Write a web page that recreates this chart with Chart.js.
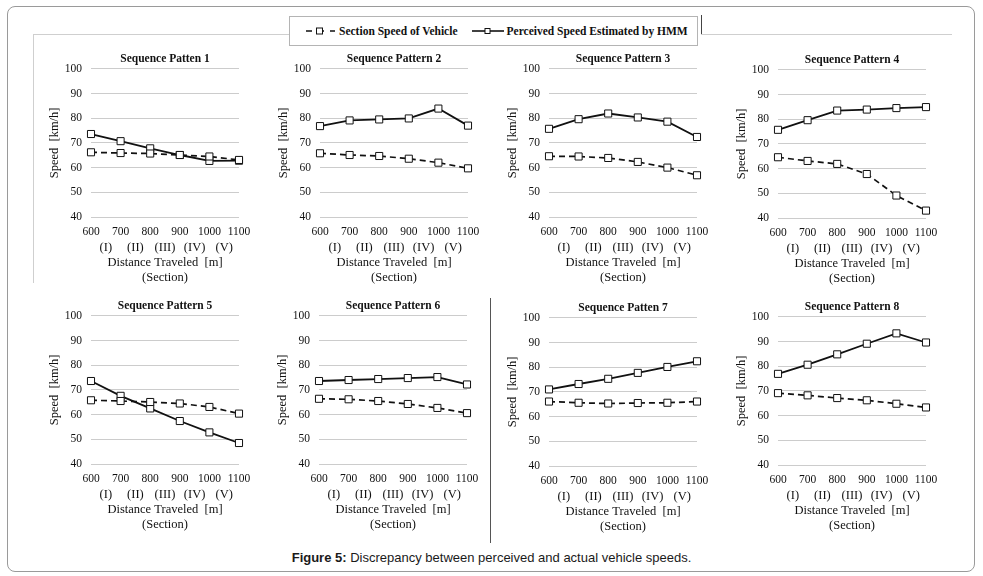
<!DOCTYPE html>
<html>
<head>
<meta charset="utf-8">
<script src="https://cdn.jsdelivr.net/npm/chart.js@4.4.1/dist/chart.umd.min.js"></script>
<style>
  html, body { margin: 0; padding: 0; background: #fff; }
  body { width: 983px; height: 576px; position: relative; overflow: hidden; }
  .frame { position: absolute; left: 7px; top: 6px; width: 966px; height: 564px;
           border: 1px solid #9a9a9a; border-radius: 8px; }
  .line { position: absolute; background: #cfcfcf; }
  .panel { position: absolute; }
  .legend { position: absolute; left: 289px; top: 16px; width: 407px; height: 28px;
            border: 1px solid #b4b4b4; background: #fff;
            font: bold 11.5px "Liberation Serif", "Times New Roman", serif; color: #111;
            display: flex; align-items: center; }
  .legend svg { margin-right: 3px; }
  .legend .item { display: flex; align-items: center; }
  .caption { position: absolute; left: 0; width: 983px; top: 550px; text-align: center;
             font: 13px "Liberation Sans", Arial, sans-serif; color: #1a1a1a; }
</style>
</head>
<body>
<div class="frame"></div>
<div class="line" style="left:33px; top:34px; width:256px; height:1px;"></div>
<div class="line" style="left:33px; top:34px; width:1px; height:249px;"></div>
<div class="line" style="left:701px; top:34px; width:251px; height:1px;"></div>
<div class="line" style="left:701px; top:15px; width:1px; height:19px; background:#444;"></div>
<div class="line" style="left:490px; top:298px; width:1px; height:245px; background:#555;"></div>

<div class="legend">
  <span class="item" style="margin-left:15px;">
    <svg width="31" height="10"><line x1="1" y1="5" x2="30" y2="5" stroke="#111" stroke-width="1.6" stroke-dasharray="6 6"/><rect x="11.5" y="2" width="6" height="6" fill="#fff" stroke="#111" stroke-width="1"/></svg>
    Section Speed of Vehicle
  </span>
  <span class="item" style="margin-left:14px;">
    <svg width="32" height="10"><line x1="0" y1="5" x2="32" y2="5" stroke="#111" stroke-width="1.6"/><rect x="13" y="2.5" width="5" height="5" fill="#fff" stroke="#111" stroke-width="1"/></svg>
    Perceived Speed Estimated by HMM
  </span>
</div>

<div class="caption"><b>Figure 5:</b> Discrepancy between perceived and actual vehicle speeds.</div>

<script>
const distances = ['600', '700', '800', '900', '1000', '1100'];
const sections = ['(I)', '(II)', '(III)', '(IV)', '(V)'];
const yTicks = [40, 50, 60, 70, 80, 90, 100];

const titles = [
  'Sequence Patten 1', 'Sequence Pattern 2', 'Sequence Pattern 3', 'Sequence Pattern 4',
  'Sequence Pattern 5', 'Sequence Pattern 6', 'Sequence Patten 7', 'Sequence Pattern 8'
];

// section speed of vehicle (dashed)
const sect1 = [66.2, 65.9, 65.7, 65.1, 64.5, 63.1];
const sect2 = [65.8, 65.1, 64.7, 63.6, 62.0, 59.7];
const sect3 = [64.6, 64.5, 63.9, 62.3, 60.0, 56.9];
const sect4 = [64.6, 63.1, 61.9, 57.8, 49.1, 43.0];
const sect5 = [65.8, 65.5, 65.1, 64.5, 63.1, 60.4];
const sect6 = [66.4, 66.2, 65.5, 64.3, 62.7, 60.6];
const sect7 = [66.1, 65.6, 65.3, 65.5, 65.6, 66.1];
const sect8 = [69.1, 68.2, 67.1, 66.2, 64.8, 63.3];

// perceived speed estimated by HMM (solid)
const hmm1 = [73.6, 70.7, 67.8, 65.1, 62.7, 62.8];
const hmm2 = [76.8, 79.1, 79.5, 79.9, 83.9, 77.0];
const hmm3 = [75.7, 79.6, 81.9, 80.3, 78.6, 72.4];
const hmm4 = [75.7, 79.6, 83.5, 83.9, 84.5, 84.9];
const hmm5 = [73.6, 67.6, 62.5, 57.4, 52.8, 48.5];
const hmm6 = [73.6, 74.0, 74.4, 74.8, 75.2, 72.2];
const hmm7 = [71.0, 73.2, 75.3, 77.7, 80.1, 82.4];
const hmm8 = [76.9, 80.6, 84.8, 89.1, 93.3, 89.6];

const sectSeries = [sect1, sect2, sect3, sect4, sect5, sect6, sect7, sect8];
const hmmSeries = [hmm1, hmm2, hmm3, hmm4, hmm5, hmm6, hmm7, hmm8];

// canvas positions [left, top]
const spots = [
  [40, 48], [269, 48], [498, 48], [727, 49],
  [40, 295], [268, 295], [498, 297], [727, 296]
];

const serif = '"Liberation Serif", "Times New Roman", serif';
const Y_AXIS_W = 51;

function makePanel(i) {
  const [left, top] = spots[i];
  const canvas = document.createElement('canvas');
  const wrap = document.createElement('div');
  wrap.className = 'panel';
  wrap.style.left = left + 'px';
  wrap.style.top = top + 'px';
  wrap.style.width = '220px';
  wrap.style.height = '237px';
  wrap.appendChild(canvas);
  document.body.appendChild(wrap);

  const pointStyle = {
    pointStyle: 'rect',
    pointRadius: 5,
    pointHoverRadius: 5,
    pointBackgroundColor: '#fff',
    pointBorderColor: '#111',
    pointBorderWidth: 1
  };

  new Chart(canvas, {
    type: 'line',
    data: {
      labels: distances,
      datasets: [
        {
          label: 'Section Speed of Vehicle',
          data: sectSeries[i],
          borderColor: '#111',
          borderWidth: 1.7,
          borderDash: [6, 4],
          tension: 0,
          ...pointStyle
        },
        {
          label: 'Perceived Speed Estimated by HMM',
          data: hmmSeries[i],
          borderColor: '#111',
          borderWidth: 1.8,
          tension: 0,
          ...pointStyle
        }
      ]
    },
    options: {
      responsive: true,
      maintainAspectRatio: false,
      animation: false,
      layout: { padding: { left: 0, right: 21, top: 0, bottom: 0 } },
      plugins: {
        legend: { display: false },
        tooltip: { enabled: false },
        title: {
          display: true,
          text: titles[i],
          fullSize: false,
          color: '#111',
          font: { family: serif, size: 11.5, weight: 'bold' },
          padding: { top: 4, bottom: 3 }
        }
      },
      scales: {
        x: {
          type: 'category',
          offset: false,
          weight: 0,
          afterFit: (scale) => { scale.height = 22; },
          grid: { display: false, drawTicks: false },
          border: { display: false },
          ticks: {
            autoSkip: false, maxRotation: 0, minRotation: 0,
            padding: 8.5, color: '#111',
            font: { family: serif, size: 11.5 }
          }
        },
        x2: {
          type: 'category',
          position: 'bottom',
          labels: sections,
          offset: true,
          weight: 1,
          afterFit: (scale) => { scale.height = 46; },
          grid: { display: false, drawTicks: false },
          border: { display: false },
          ticks: {
            autoSkip: false, maxRotation: 0, minRotation: 0,
            padding: 1, color: '#111',
            font: { family: serif, size: 12.5 }
          },
          title: {
            display: true,
            text: ['Distance Traveled  [m]', '(Section)'],
            color: '#111',
            font: { family: serif, size: 12.5, lineHeight: 1.2 },
            padding: { top: 0, bottom: 0 }
          }
        },
        y: {
          min: 40,
          max: 100,
          afterBuildTicks: (scale) => { scale.ticks = yTicks.map(v => ({ value: v })); },
          afterFit: (scale) => { scale.width = Y_AXIS_W; },
          grid: { color: '#cccccc', lineWidth: 1, drawTicks: false },
          border: { display: false },
          ticks: {
            padding: 9, color: '#111',
            font: { family: serif, size: 11.5 }
          },
          title: {
            display: true,
            text: 'Speed  [km/h]',
            color: '#111',
            font: { family: serif, size: 12.5 },
            padding: { top: 7, bottom: 0 }
          }
        }
      }
    }
  });
}

for (let i = 0; i < 8; i++) makePanel(i);
</script>
</body>
</html>
